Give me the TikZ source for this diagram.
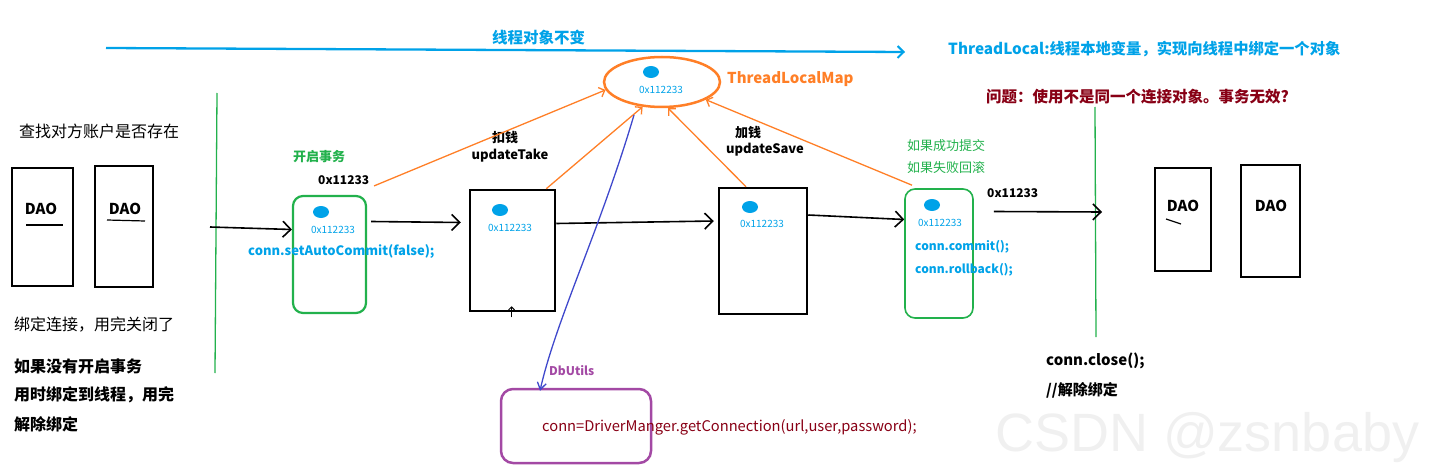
\documentclass[tikz,border=0pt]{standalone}
\usepackage{fontspec}
\setmainfont{Noto Sans CJK SC}
\newfontfamily\wmfont{Liberation Sans}
\usetikzlibrary{arrows.meta,shapes.geometric,calc}
\definecolor{pblue}{HTML}{00A2E8}
\definecolor{porange}{HTML}{FF7F27}
\definecolor{pgreen}{HTML}{22B14C}
\definecolor{ppurple}{HTML}{A349A4}
\definecolor{pred}{HTML}{880015}
\definecolor{pindigo}{HTML}{3F48CC}
\begin{document}
\begin{tikzpicture}[x=1pt,y=-1pt,
  txt/.style={inner sep=0pt, anchor=west, font=\fontsize{16}{19}\selectfont},
  small/.style={inner sep=0pt, font=\fontsize{10}{12}\selectfont, text=pblue},
  daobox/.style={draw, line width=1.5pt, inner sep=0pt},
  thickbox/.style={draw, line width=2.5pt, inner sep=0pt},
  greenbox/.style={draw=pgreen, line width=2.2pt, rounded corners=10pt, inner sep=0pt},
  dot/.style={ellipse, fill=pblue, minimum width=16pt, minimum height=12pt, inner sep=0pt},
  flow/.style={-{Straight Barb[length=8pt,width=16pt,line width=1.6pt]}, line width=1.6pt, black},
  orarrow/.style={-{Straight Barb[length=5pt,width=10pt]}, porange, line width=1.3pt},
]
\useasboundingbox (0,0) rectangle (1432,476);

% top blue arrow
\coordinate (ta) at (106,48);
\coordinate (tb) at (905,52);
\draw[pblue, line width=2.3pt, -{Straight Barb[length=6pt,width=12pt,line width=2pt]}] (ta) -- (tb);
\node[txt, text=pblue, font=\fontsize{15.5}{18}\selectfont\bfseries] (tl1) at (492,38) {线程对象不变};
\node[txt, text=pblue, font=\fontsize{15.3}{18}\selectfont\bfseries] (tl2) at (948,49) {ThreadLocal:线程本地变量，实现向线程中绑定一个对象};
\node[txt, text=pred, font=\fontsize{15.5}{18}\selectfont\bfseries] (q) at (986,97) {问题：使用不是同一个连接对象。事务无效?};

% green vertical lines
\draw[pgreen, line width=1.3pt] (217,93) -- (215,373);
\draw[pgreen, line width=1.3pt] (1095,107) -- (1096,337);

% ThreadLocalMap ellipse
\node[ellipse, draw=porange, line width=2.5pt, minimum width=116pt, minimum height=50pt, inner sep=0pt] (tlm) at (662,82) {};
\node[dot] (tdot) at (651,72) {};
\node[small] (tval) at (661,90) {0x112233};
\node[txt, text=porange, font=\fontsize{15}{18}\selectfont\bfseries] (tlmlab) at (727,79) {ThreadLocalMap};

% left texts
\node[txt] (find) at (19,131) {查找对方账户是否存在};
\node[daobox, minimum width=61pt, minimum height=118pt] (d1) at (42.5,227) {};
\node[daobox, minimum width=58pt, minimum height=121pt] (d2) at (124,226.5) {};
\node[inner sep=0pt, font=\fontsize{15}{18}\selectfont\bfseries] (d1t) at (41,209) {DAO};
\node[inner sep=0pt, font=\fontsize{15}{18}\selectfont\bfseries] (d2t) at (125,209) {DAO};
\draw[line width=1.2pt] (26,225) -- (63,225);
\draw[line width=1.2pt] (107,220) -- (145,221);
\node[txt] (bind) at (14,325) {绑定连接，用完关闭了};
\node[txt, font=\fontsize{16}{19}\selectfont\bfseries] (n1) at (14,366) {如果没有开启事务};
\node[txt, font=\fontsize{16}{19}\selectfont\bfseries] (n2) at (14,395) {用时绑定到线程，用完};
\node[txt, font=\fontsize{16}{19}\selectfont\bfseries] (n3) at (14,424) {解除绑定};

% box 1 (start transaction)
\node[greenbox, minimum width=73pt, minimum height=117pt] (b1) at (329.5,254.5) {};
\node[txt, text=pgreen, font=\fontsize{13}{16}\selectfont\bfseries] (b1t) at (293,157) {开启事务};
\node[txt, font=\fontsize{12}{14}\selectfont\bfseries] (b1a) at (318,180) {0x11233};
\node[dot] (b1d) at (321,212) {};
\node[small] (b1v) at (333,230) {0x112233};
\node[txt, text=pblue, font=\fontsize{13}{16}\selectfont\bfseries] (b1c) at (248,252) {conn.setAutoCommit(false);};

% box 2 (take)
\node[thickbox, minimum width=85pt, minimum height=121pt] (b2) at (512.5,250.5) {};
\node[inner sep=0pt, font=\fontsize{13}{16}\selectfont\bfseries] (b2t) at (505,138) {扣钱};
\node[inner sep=0pt, font=\fontsize{13}{16}\selectfont\bfseries] (b2u) at (510,156) {updateTake};
\node[dot] (b2d) at (500,210) {};
\node[small] (b2v) at (510,228) {0x112233};

% box 3 (save)
\node[thickbox, minimum width=88pt, minimum height=126pt] (b3) at (763,251) {};
\node[inner sep=0pt, font=\fontsize{13}{16}\selectfont\bfseries] (b3t) at (748,133) {加钱};
\node[inner sep=0pt, font=\fontsize{13}{16}\selectfont\bfseries] (b3u) at (765,150) {updateSave};
\node[dot] (b3d) at (750,207) {};
\node[small] (b3v) at (762,224) {0x112233};

% box 4 (commit/rollback)
\node[greenbox, line width=1.6pt, minimum width=68pt, minimum height=129pt] (b4) at (939,253.5) {};
\node[txt, text=pgreen, font=\fontsize{13}{16}\selectfont] (b4t1) at (907,146) {如果成功提交};
\node[txt, text=pgreen, font=\fontsize{13}{16}\selectfont] (b4t2) at (907,168) {如果失败回滚};
\node[dot] (b4d) at (932,205) {};
\node[small] (b4v) at (940,223) {0x112233};
\node[txt, text=pblue, font=\fontsize{12}{14}\selectfont\bfseries] (b4c1) at (915,247) {conn.commit();};
\node[txt, text=pblue, font=\fontsize{12}{14}\selectfont\bfseries] (b4c2) at (915,270) {conn.rollback();};
\node[txt, font=\fontsize{12}{14}\selectfont\bfseries] (b4a) at (987,193) {0x11233};

% right DAO boxes
\node[daobox, minimum width=56pt, minimum height=103pt] (d3) at (1183,219.5) {};
\node[daobox, minimum width=59pt, minimum height=112pt] (d4) at (1270.5,221) {};
\node[inner sep=0pt, font=\fontsize{15}{18}\selectfont\bfseries] (d3t) at (1183,206) {DAO};
\node[inner sep=0pt, font=\fontsize{15}{18}\selectfont\bfseries] (d4t) at (1271,206) {DAO};
\draw[line width=1.2pt] (1166,219) -- (1181,224);
\node[txt, font=\fontsize{15}{18}\selectfont\bfseries] (close) at (1046,361) {conn.close();};
\node[txt, font=\fontsize{15}{18}\selectfont\bfseries] (unb) at (1046,390) {//解除绑定};

% DbUtils box
\node[draw=ppurple, line width=2.5pt, rounded corners=12pt, minimum width=150pt, minimum height=74pt, inner sep=0pt] (db) at (576,426) {};
\node[txt, text=ppurple, font=\fontsize{12}{14}\selectfont\bfseries] (dbl) at (549,371) {DbUtils};
\node[txt, text=pred, font=\fontsize{14.7}{17}\selectfont] (dbc) at (542,427) {conn=DriverManger.getConnection(url,user,password);};

% black flow arrows
\coordinate (fin) at (210,227);
\coordinate (fout) at (1102,212);
\draw[flow] (fin) -- ([yshift=25pt]b1.west);
\draw[flow] ([xshift=4pt,yshift=33pt]b1.east) -- ([xshift=-8pt,yshift=28pt]b2.west);
\draw[flow] ([yshift=27pt]b2.east) -- ([xshift=-4pt,yshift=30pt]b3.west);
\draw[flow] ([yshift=36pt]b3.east) -- ([yshift=34pt]b4.west);
\draw[flow] ([xshift=20pt,yshift=42pt]b4.east) -- (fout);

% orange arrows to ThreadLocalMap
\draw[orarrow] ([xshift=7pt,yshift=9pt]b1.north east) -- (tlm.188);
\draw[orarrow] ([xshift=-10pt]b2.north east) -- (tlm.232);
\draw[orarrow] ([xshift=-17pt]b3.north) -- (tlm.283);
\draw[orarrow] ([xshift=-27pt,yshift=3pt]b4.north) -- (tlm.338);

% small arrow mark at bottom of box 2
\draw[-{Straight Barb[length=3pt,width=6pt]}, line width=1pt] ([xshift=-1pt,yshift=-5pt]b2.south) -- ([xshift=-1pt,yshift=6pt]b2.south);

% indigo line from ThreadLocalMap to DbUtils
\coordinate (ls) at (634,115);
\draw[pindigo, line width=1.3pt, -{Straight Barb[length=7pt,width=9pt]}] (ls) .. controls (600,230) and (556,320) .. ([xshift=-36pt,yshift=-3pt]db.north);

% watermark
\node[inner sep=0pt, anchor=west, text=black!6, font=\wmfont\fontsize{54}{60}\selectfont] (wm) at (995,438) {CSDN @zsnbaby};
\end{tikzpicture}
\end{document}
